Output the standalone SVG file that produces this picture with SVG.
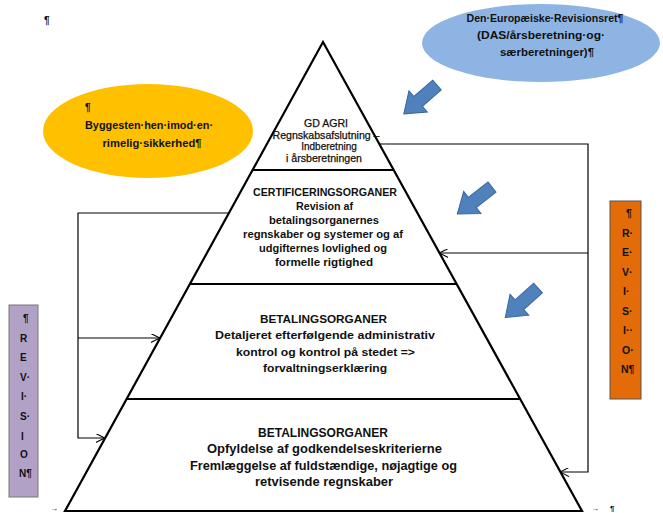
<svg xmlns="http://www.w3.org/2000/svg" width="663" height="513" viewBox="0 0 663 513">
<style>
text{font-family:"Liberation Sans",Arial,sans-serif;fill:#111;}
.b{font-weight:bold;}
.c{text-anchor:middle;}
.pyr{fill:none;stroke:#000;stroke-width:2.2;}
.div{stroke:#000;stroke-width:2;}
.con{fill:none;stroke:#000;stroke-width:1.2;}
.blk{fill:#4F81BD;stroke:#3A679C;stroke-width:1;}
.top{font-size:10px;stroke:#111;stroke-width:0.25;}
</style>
<defs>
<marker id="ah" viewBox="0 0 10 10" refX="10" refY="5" markerWidth="9" markerHeight="9" markerUnits="userSpaceOnUse" orient="auto">
<path d="M0,0 L10,5 L0,10" fill="none" stroke="#000" stroke-width="1.2"/>
</marker>
<path id="barrow" d="M0,-6.5 L25,-6.5 L25,-14 L44,0 L25,14 L25,6.5 L0,6.5 Z"/>
</defs>
<rect width="663" height="513" fill="#fff"/>
<text x="44" y="24" font-size="10" class="b">¶</text>

<g id="eca">
<ellipse cx="541" cy="43" rx="119" ry="39" fill="#8EB4E3"/>
<text x="545" y="22" font-size="10" class="b c" textLength="157" lengthAdjust="spacingAndGlyphs">Den·Europæiske·Revisionsret¶</text>
<text x="541" y="39" font-size="10" class="b c" textLength="128" lengthAdjust="spacingAndGlyphs">(DAS/årsberetning·og·</text>
<text x="547" y="56" font-size="10" class="b c" textLength="94" lengthAdjust="spacingAndGlyphs">særberetninger)¶</text>
</g>

<g id="byggesten">
<ellipse cx="148" cy="131" rx="105" ry="47" fill="#FFC000"/>
<text x="85" y="111" font-size="10" class="b">¶</text>
<text x="149" y="129" font-size="10" class="b c" textLength="128" lengthAdjust="spacingAndGlyphs">Byggesten·hen·imod·en·</text>
<text x="152" y="147" font-size="10" class="b c" textLength="99" lengthAdjust="spacingAndGlyphs">rimelig·sikkerhed¶</text>
</g>

<g id="pyramid">
<polygon class="pyr" points="323,42 582,511 65,511"/>
<line class="div" x1="252.4" y1="170" x2="393.6" y2="170"/>
<line class="div" x1="189.6" y1="284" x2="456.4" y2="284"/>
<line class="div" x1="126.2" y1="399" x2="519.8" y2="399"/>
</g>

<g id="gdagri">
<text x="326" y="127" class="c top" textLength="44" lengthAdjust="spacingAndGlyphs">GD AGRI</text>
<text x="326" y="138.7" class="c top" textLength="107" lengthAdjust="spacingAndGlyphs">Regnskabsafslutning –</text>
<text x="329" y="150.3" class="c top">Indberetning</text>
<text x="324" y="162" class="c top" textLength="76" lengthAdjust="spacingAndGlyphs">i årsberetningen</text>
</g>

<g id="certificering">
<text x="325" y="196" font-size="10.5" class="b c" textLength="144" lengthAdjust="spacingAndGlyphs">CERTIFICERINGSORGANER</text>
<text x="324.5" y="210" font-size="10.5" class="b c" textLength="57" lengthAdjust="spacingAndGlyphs">Revision af</text>
<text x="324" y="224" font-size="10.5" class="b c" textLength="110" lengthAdjust="spacingAndGlyphs">betalingsorganernes</text>
<text x="323" y="238" font-size="10.5" class="b c" textLength="160" lengthAdjust="spacingAndGlyphs">regnskaber og systemer og af</text>
<text x="323" y="252" font-size="10.5" class="b c" textLength="128" lengthAdjust="spacingAndGlyphs">udgifternes lovlighed og</text>
<text x="324" y="266" font-size="10.5" class="b c" textLength="98" lengthAdjust="spacingAndGlyphs">formelle rigtighed</text>
</g>

<g id="betaling1">
<text x="323.5" y="323" font-size="11.5" class="b c" textLength="127" lengthAdjust="spacingAndGlyphs">BETALINGSORGANER</text>
<text x="325" y="339" font-size="11.5" class="b c" textLength="220" lengthAdjust="spacingAndGlyphs">Detaljeret efterfølgende administrativ</text>
<text x="325.5" y="356" font-size="11.5" class="b c" textLength="179" lengthAdjust="spacingAndGlyphs">kontrol og kontrol på stedet =&gt;</text>
<text x="325" y="372" font-size="11.5" class="b c" textLength="124" lengthAdjust="spacingAndGlyphs">forvaltningserklæring</text>
</g>

<g id="betaling2">
<text x="323" y="437" font-size="12" class="b c" textLength="130" lengthAdjust="spacingAndGlyphs">BETALINGSORGANER</text>
<text x="324.5" y="453" font-size="12" class="b c" textLength="235" lengthAdjust="spacingAndGlyphs">Opfyldelse af godkendelseskriterierne</text>
<text x="323.5" y="470" font-size="12" class="b c" textLength="267" lengthAdjust="spacingAndGlyphs">Fremlæggelse af fuldstændige, nøjagtige og</text>
<text x="324" y="486" font-size="12" class="b c" textLength="138" lengthAdjust="spacingAndGlyphs">retvisende regnskaber</text>
</g>

<g id="revision-right">
<rect x="610" y="201" width="31" height="198" fill="#E36C09" stroke="#555" stroke-width="1"/>
<text x="626" y="217" font-size="10.5" class="b">¶</text>
<text x="622" y="237" font-size="10.5" class="b">R·</text>
<text x="622" y="256" font-size="10.5" class="b">E·</text>
<text x="622" y="276" font-size="10.5" class="b">V·</text>
<text x="623" y="295" font-size="10.5" class="b">I·</text>
<text x="622" y="315" font-size="10.5" class="b">S·</text>
<text x="623" y="334" font-size="10.5" class="b">I··</text>
<text x="622" y="354" font-size="10.5" class="b">O·</text>
<text x="621" y="373" font-size="10.5" class="b">N¶</text>
</g>

<g id="revision-left">
<rect x="9" y="305" width="29" height="192" fill="#B2A1C7" stroke="#777" stroke-width="1"/>
<text x="23" y="322" font-size="10" class="b">¶</text>
<text x="20" y="342" font-size="10" class="b">R</text>
<text x="20" y="361" font-size="10" class="b">E</text>
<text x="20" y="381" font-size="10" class="b">V·</text>
<text x="21" y="400" font-size="10" class="b">I·</text>
<text x="20" y="420" font-size="10" class="b">S·</text>
<text x="21" y="440" font-size="10" class="b">I</text>
<text x="20" y="458" font-size="10" class="b">O</text>
<text x="19" y="477" font-size="10" class="b">N¶</text>
</g>

<g id="block-arrows">
<use href="#barrow" class="blk" transform="translate(437,85) rotate(139)"/>
<use href="#barrow" class="blk" transform="translate(492,187) rotate(142)"/>
<use href="#barrow" class="blk" transform="translate(538,288) rotate(138)"/>
</g>

<g id="connectors">
<path class="con" d="M228.8,213 H78 V438 H104.7" marker-end="url(#ah)"/>
<path class="con" d="M78,338 H159.9" marker-end="url(#ah)"/>
<path class="con" d="M379.2,144 H588 V472 H560" marker-end="url(#ah)"/>
<path class="con" d="M588,253 H439.3" marker-end="url(#ah)"/>
</g>

<text x="50" y="511" font-size="8">→</text>
<text x="591" y="511" font-size="8">→</text>
<text x="610" y="511" font-size="8" class="b" fill="#1F3A8A">¶</text>
</svg>
